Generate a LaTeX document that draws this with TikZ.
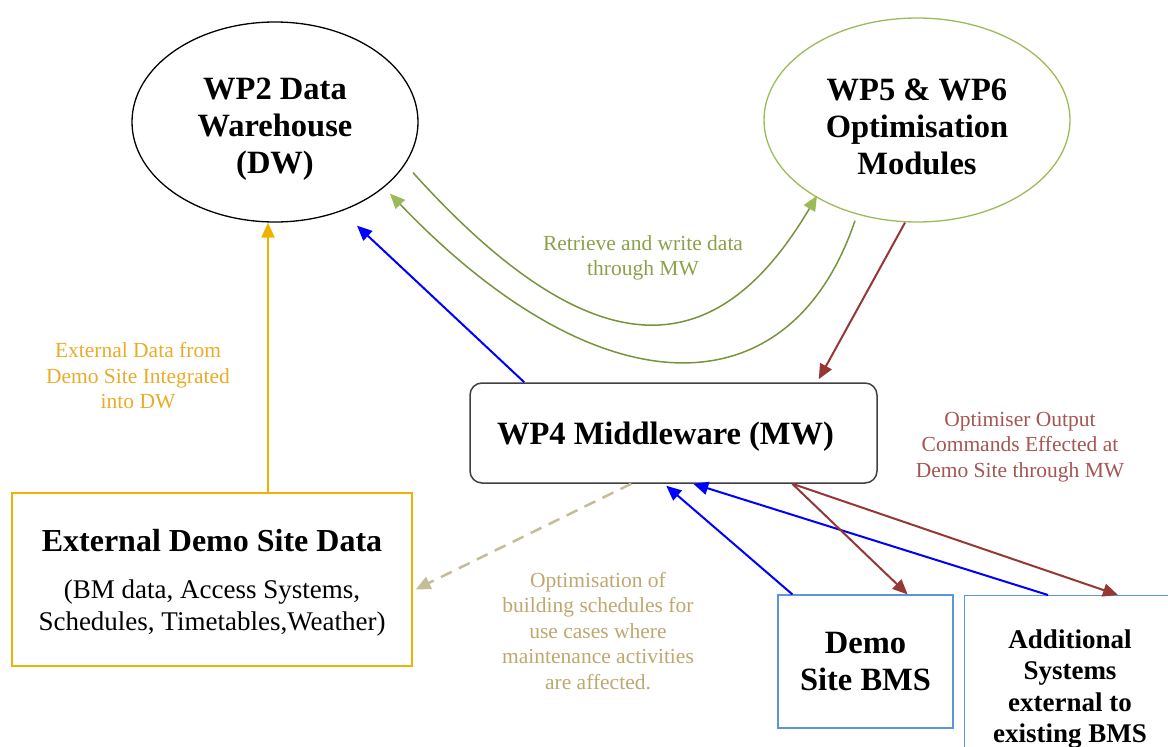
\documentclass[tikz,border=0pt]{standalone}
\usepackage{fontspec}
\setmainfont{Liberation Serif}
\usetikzlibrary{arrows.meta, calc, shapes.geometric, positioning}

\definecolor{optgreen}{RGB}{155,187,89}
\definecolor{curvegreen}{RGB}{119,147,60}
\definecolor{rwtext}{RGB}{140,160,75}
\definecolor{extorange}{RGB}{240,178,0}
\definecolor{exttext}{RGB}{232,172,40}
\definecolor{outred}{RGB}{149,55,53}
\definecolor{schedtan}{RGB}{196,189,151}
\definecolor{schedtext}{RGB}{190,168,112}
\definecolor{bmsblue}{RGB}{91,150,220}

\tikzset{
	bigtext/.style={font=\fontsize{32.5}{37}\selectfont\bfseries, align=center, text=black},
	smalltext/.style={font=\fontsize{21.5}{25.5}\selectfont, align=center},
	flow/.style={line width=2pt, -{Triangle[length=15pt,width=13pt]}},
	boxnode/.style={draw, rectangle, inner sep=0pt, line width=1.2pt},
}

\begin{document}
\begin{tikzpicture}[x=1pt,y=-1pt]
	\useasboundingbox (0,0) rectangle (1168,747);
	% nodes
	\node[draw=black, line width=1.3pt, ellipse, inner sep=0pt, minimum width=286pt, minimum height=200pt] (dw) at (275,122) {};
	\node[bigtext] (dwtext) at ($(dw)+(0,7)$) {WP2 Data\\Warehouse\\(DW)};
	\node[draw=optgreen, line width=1.3pt, ellipse, inner sep=0pt, minimum width=306pt, minimum height=204pt] (opt) at (917,120) {};
	\node[bigtext] (opttext) at ($(opt)+(0,7)$) {WP5 \& WP6\\Optimisation\\Modules};
	\node[draw=black!75, line width=1.5pt, rectangle, rounded corners=12pt, minimum width=407pt, minimum height=100pt] (mw) at (673.5,433) {};
	\node[bigtext] (mwtext) at ($(mw)+(-8,4)$) {WP4 Middleware (MW)};
	\node[boxnode, draw=extorange, minimum width=400pt, minimum height=173pt] (ext) at (212,579.5) {};
	\node[bigtext, font=\fontsize{32}{37}\selectfont\bfseries] (exttitle) at (212,541) {External Demo Site Data};
	\node[align=center, font=\fontsize{27}{32}\selectfont] (extsub) at (212,608) {(BM data, Access Systems,\\Schedules, Timetables,Weather)};
	\node[boxnode, draw=bmsblue, minimum width=175pt, minimum height=133pt, bigtext] (bms) at (865.5,661.5) {Demo\\Site BMS};
	\node[boxnode, draw=bmsblue, minimum width=240pt, minimum height=220pt, anchor=north west] (add) at (964,595) {};
	\node[bigtext, font=\fontsize{27}{31.5}\selectfont\bfseries] (addtext) at (1070,689) {Additional\\Systems\\external to\\existing BMS};

	% labels
	\node[smalltext, text=exttext] (extlbl) at (138,376) {External Data from\\Demo Site Integrated\\into DW};
	\node[smalltext, text=rwtext] (rwlbl) at (643,258) {Retrieve and write data\\through MW};
	\node[smalltext, text=outred!85] (outlbl) at (1020,447) {Optimiser Output\\Commands Effected at\\Demo Site through MW};
	\node[smalltext, text=schedtext] (schedlbl) at (598,631) {Optimisation of\\building schedules for\\use cases where\\maintenance activities\\are affected.};

	% connectors
	\draw[flow, extorange] ($(ext.north)+(56,0)$) -- ($(dw.south)+(-7,0)$);
	\draw[flow, blue] ($(mw.north west)+(55,0)$) -- ($(dw.south)+(82,3)$);
	\draw[curvegreen, line width=1.5pt, -{Triangle[length=15pt,width=13pt,color=optgreen]}] ($(dw.south)+(138,-50)$) .. controls (600,380) and (720,360) .. ($(opt.south)+(-100,-27)$);
	\draw[curvegreen, line width=1.5pt, -{Triangle[length=15pt,width=13pt,color=optgreen]}] ($(opt.south)+(-62,-2)$) .. controls (790,413) and (600,413) .. ($(dw.south)+(115,-29)$);
	\draw[flow, outred] ($(opt.south)+(-12,0)$) -- ($(mw.north east)+(-59,-3)$);
	\draw[flow, schedtan, line width=2.5pt, dash pattern=on 12pt off 8pt] ($(mw.south west)+(162,0)$) -- ($(ext.east)+(3,10)$);
	\draw[flow, blue] ($(bms.north west)+(15,0)$) -- ($(mw.south west)+(197,2)$);
	\draw[flow, blue] ($(add.north west)+(84,0)$) -- ($(mw.south west)+(224,0)$);
	\draw[flow, outred] ($(mw.south west)+(323,0)$) -- ($(bms.north east)+(-46,0)$);
	\draw[flow, outred] ($(mw.south west)+(323,0)$) -- ($(add.north west)+(154,0)$);
\end{tikzpicture}
\end{document}
